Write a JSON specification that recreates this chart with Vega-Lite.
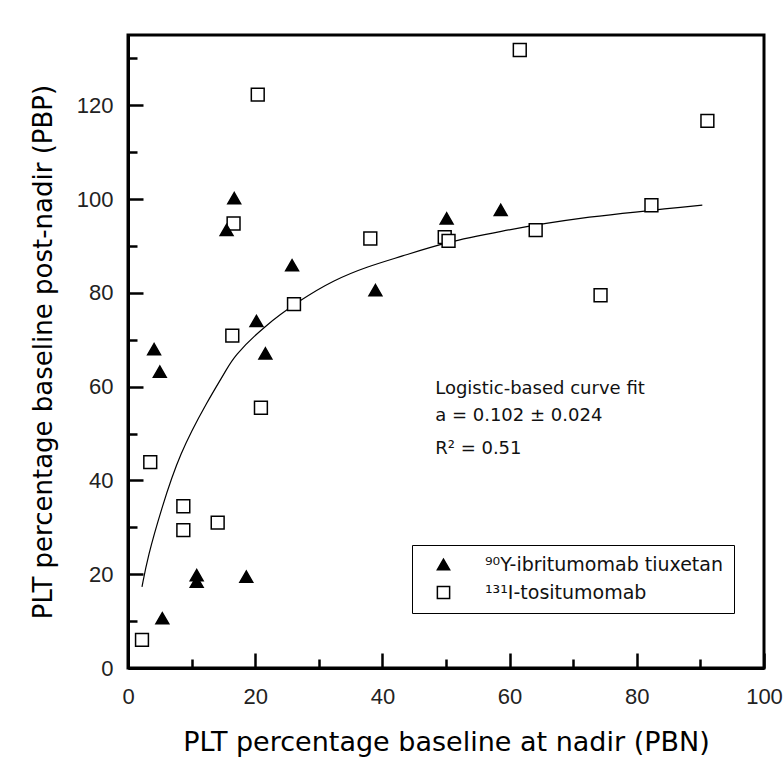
{
  "$schema": "https://vega.github.io/schema/vega-lite/v6.json",
  "width": 636,
  "height": 633,
  "autosize": {"type": "none"},
  "padding": {"left": 128, "top": 35, "right": 19, "bottom": 90},
  "background": "white",
  "config": {
    "view": {"stroke": "black", "strokeWidth": 3},
    "font": "Liberation Sans"
  },
  "layer": [
    {
      "data": {"values": [
        {"x": 2.2, "y": 17.3}, {"x": 3.1, "y": 23.7}, {"x": 5.2, "y": 33.7}, {"x": 8.1, "y": 45.8},
        {"x": 12.6, "y": 57.2}, {"x": 15.5, "y": 63.6}, {"x": 16.6, "y": 66.4}, {"x": 21.3, "y": 72.8},
        {"x": 27.1, "y": 78.5}, {"x": 32.3, "y": 82.7}, {"x": 37.6, "y": 85.6}, {"x": 42.8, "y": 87.7},
        {"x": 50.2, "y": 90.9}, {"x": 58.1, "y": 93.0}, {"x": 69.6, "y": 95.9}, {"x": 90.3, "y": 98.7}
      ]},
      "mark": {"type": "line", "color": "black", "strokeWidth": 1.2, "interpolate": "basis"},
      "encoding": {
        "x": {
          "field": "x", "type": "quantitative",
          "scale": {"domain": [0, 100], "nice": false, "zero": false},
          "axis": {
            "values": [0, 10, 20, 30, 40, 50, 60, 70, 80, 90, 100],
            "labelExpr": "datum.value % 20 === 0 ? datum.label : ''",
            "tickSize": {"condition": {"test": "datum.value % 20 === 0", "value": -15}, "value": -9},
            "tickColor": "black", "tickWidth": 2.5,
            "domainColor": "black", "domainWidth": 3,
            "labelFont": "Liberation Sans", "labelFontSize": 22, "labelColor": "#222",
            "labelPadding": 33, "labelFlush": false, "labelOverlap": false,
            "grid": false,
            "title": "PLT percentage baseline at nadir (PBN)",
            "titleFont": "DejaVu Sans", "titleFontSize": 27, "titleFontWeight": "normal",
            "titleColor": "black", "titlePadding": 16
          }
        },
        "y": {
          "field": "y", "type": "quantitative",
          "scale": {"domain": [0, 135], "nice": false, "zero": false},
          "axis": {
            "values": [0, 10, 20, 30, 40, 50, 60, 70, 80, 90, 100, 110, 120, 130],
            "labelExpr": "datum.value % 20 === 0 ? datum.label : ''",
            "tickSize": {"condition": {"test": "datum.value % 20 === 0", "value": -15}, "value": -9},
            "tickColor": "black", "tickWidth": 2.5,
            "domainColor": "black", "domainWidth": 3,
            "labelFont": "Liberation Sans", "labelFontSize": 22, "labelColor": "#222",
            "labelPadding": 30, "labelFlush": false, "labelOverlap": false,
            "grid": false,
            "title": "PLT percentage baseline post-nadir (PBP)",
            "titleFont": "DejaVu Sans", "titleFontSize": 26, "titleFontWeight": "normal",
            "titleColor": "black", "titlePadding": 20
          }
        }
      }
    },
    {
      "data": {"values": [
        {"x": 20.4, "y": 122.3, "series": "¹³¹I-tositumomab"},
        {"x": 16.6, "y": 94.8, "series": "¹³¹I-tositumomab"},
        {"x": 38.1, "y": 91.6, "series": "¹³¹I-tositumomab"},
        {"x": 61.6, "y": 131.8, "series": "¹³¹I-tositumomab"},
        {"x": 91.1, "y": 116.7, "series": "¹³¹I-tositumomab"},
        {"x": 49.8, "y": 91.9, "series": "¹³¹I-tositumomab"},
        {"x": 50.4, "y": 91.1, "series": "¹³¹I-tositumomab"},
        {"x": 64.1, "y": 93.4, "series": "¹³¹I-tositumomab"},
        {"x": 82.3, "y": 98.7, "series": "¹³¹I-tositumomab"},
        {"x": 74.3, "y": 79.5, "series": "¹³¹I-tositumomab"},
        {"x": 16.4, "y": 70.9, "series": "¹³¹I-tositumomab"},
        {"x": 26.1, "y": 77.6, "series": "¹³¹I-tositumomab"},
        {"x": 20.9, "y": 55.5, "series": "¹³¹I-tositumomab"},
        {"x": 3.5, "y": 43.9, "series": "¹³¹I-tositumomab"},
        {"x": 8.7, "y": 34.5, "series": "¹³¹I-tositumomab"},
        {"x": 8.7, "y": 29.4, "series": "¹³¹I-tositumomab"},
        {"x": 14.1, "y": 31.0, "series": "¹³¹I-tositumomab"},
        {"x": 2.2, "y": 6.0, "series": "¹³¹I-tositumomab"},
        {"x": 16.7, "y": 100.2, "series": "⁹⁰Y-ibritumomab tiuxetan"},
        {"x": 15.5, "y": 93.4, "series": "⁹⁰Y-ibritumomab tiuxetan"},
        {"x": 25.8, "y": 85.9, "series": "⁹⁰Y-ibritumomab tiuxetan"},
        {"x": 38.9, "y": 80.6, "series": "⁹⁰Y-ibritumomab tiuxetan"},
        {"x": 20.2, "y": 74.0, "series": "⁹⁰Y-ibritumomab tiuxetan"},
        {"x": 21.6, "y": 67.1, "series": "⁹⁰Y-ibritumomab tiuxetan"},
        {"x": 4.1, "y": 68.0, "series": "⁹⁰Y-ibritumomab tiuxetan"},
        {"x": 5.0, "y": 63.2, "series": "⁹⁰Y-ibritumomab tiuxetan"},
        {"x": 50.1, "y": 95.9, "series": "⁹⁰Y-ibritumomab tiuxetan"},
        {"x": 58.6, "y": 97.7, "series": "⁹⁰Y-ibritumomab tiuxetan"},
        {"x": 10.8, "y": 19.8, "series": "⁹⁰Y-ibritumomab tiuxetan"},
        {"x": 10.8, "y": 18.4, "series": "⁹⁰Y-ibritumomab tiuxetan"},
        {"x": 18.6, "y": 19.5, "series": "⁹⁰Y-ibritumomab tiuxetan"},
        {"x": 5.4, "y": 10.6, "series": "⁹⁰Y-ibritumomab tiuxetan"}
      ]},
      "mark": {"type": "point", "filled": true, "stroke": "black", "strokeWidth": 1.5, "opacity": 1, "size": 165},
      "encoding": {
        "x": {"field": "x", "type": "quantitative"},
        "y": {"field": "y", "type": "quantitative"},
        "shape": {
          "field": "series", "type": "nominal",
          "scale": {"domain": ["⁹⁰Y-ibritumomab tiuxetan", "¹³¹I-tositumomab"], "range": ["triangle-up", "square"]},
          "legend": {
            "title": null, "orient": "none", "legendX": 284, "legendY": 510,
            "strokeColor": "black", "fillColor": "white", "padding": 10,
            "labelFont": "DejaVu Sans", "labelFontSize": 19, "labelColor": "#111",
            "labelLimit": 500, "symbolSize": 150, "symbolStrokeWidth": 1.5,
            "symbolStrokeColor": "black", "symbolFillColor": "black",
            "symbolOffset": 12, "labelOffset": 32, "rowPadding": 8,
            "encode": {
              "symbols": {
                "update": {
                  "fill": {"signal": "datum.value === '¹³¹I-tositumomab' ? 'white' : 'black'"},
                  "stroke": {"value": "black"},
                  "size": {"signal": "datum.value === '¹³¹I-tositumomab' ? 70 : 160"}
                }
              }
            }
          }
        },
        "fill": {
          "field": "series", "type": "nominal",
          "scale": {"domain": ["⁹⁰Y-ibritumomab tiuxetan", "¹³¹I-tositumomab"], "range": ["black", "white"]},
          "legend": null
        }
      }
    },
    {
      "data": {"values": [
        {"x": 48.3, "y": 58.4, "label": "Logistic-based curve fit"},
        {"x": 48.3, "y": 52.6, "label": "a = 0.102 ± 0.024"},
        {"x": 48.3, "y": 45.6, "label": "R² =  0.51"}
      ]},
      "mark": {"type": "text", "align": "left", "baseline": "alphabetic", "font": "DejaVu Sans", "fontSize": 18, "color": "#111"},
      "encoding": {
        "x": {"field": "x", "type": "quantitative"},
        "y": {"field": "y", "type": "quantitative"},
        "text": {"field": "label"}
      }
    }
  ]
}
